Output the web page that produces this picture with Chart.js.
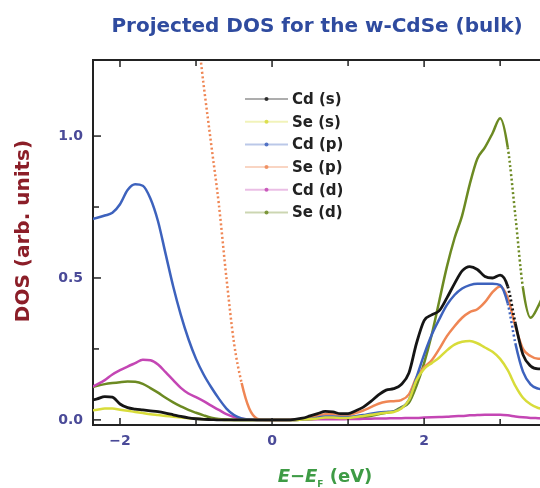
<!DOCTYPE html>
<html>
<head>
<meta charset="utf-8">
<title>Projected DOS w-CdSe</title>
<script src="https://cdn.jsdelivr.net/npm/chart.js@4.4.1/dist/chart.umd.min.js"></script>
<style>
  html, body { margin: 0; padding: 0; background: #fff; overflow: hidden; }
  #wrap { width: 550px; height: 488px; }
</style>
</head>
<body>
<div id="wrap"><canvas id="dosChart" width="550" height="488"></canvas></div>
<script>
// energy grid (eV, relative to E_F)
const energies = [
  -2.4, -2.3, -2.2, -2.1, -2.0, -1.9, -1.8, -1.7, -1.6, -1.5,
  -1.4, -1.3, -1.2, -1.1, -1.0, -0.9, -0.8, -0.7, -0.6, -0.5,
  -0.4, -0.3, -0.2, -0.1, 0.0, 0.1, 0.2, 0.3, 0.4, 0.5,
  0.6, 0.7, 0.8, 0.9, 1.0, 1.1, 1.2, 1.3, 1.4, 1.5,
  1.6, 1.7, 1.8, 1.9, 2.0, 2.1, 2.2, 2.3, 2.4, 2.5,
  2.6, 2.7, 2.8, 2.9, 3.0, 3.1, 3.2, 3.3, 3.4, 3.5, 3.6
];

const cdS = [
  0.068, 0.074, 0.082, 0.080, 0.056, 0.043, 0.038, 0.035, 0.032, 0.029,
  0.024, 0.018, 0.012, 0.007, 0.004, 0.002, 0.001, 0, 0, 0,
  0, 0, 0, 0, 0, 0, 0, 0.002, 0.006, 0.014,
  0.022, 0.030, 0.028, 0.022, 0.022, 0.032, 0.045, 0.065, 0.088, 0.105,
  0.110, 0.125, 0.165, 0.270, 0.350, 0.370, 0.385, 0.430, 0.480, 0.525,
  0.540, 0.530, 0.505, 0.500, 0.510, 0.470, 0.340, 0.230, 0.190, 0.180, 0.180
];
const seS = [
  0.033, 0.036, 0.040, 0.040, 0.036, 0.032, 0.028, 0.024, 0.020, 0.017,
  0.014, 0.011, 0.008, 0.006, 0.004, 0.003, 0.002, 0.001, 0, 0,
  0, 0, 0, 0, 0, 0, 0, 0, 0.001, 0.002,
  0.005, 0.008, 0.008, 0.007, 0.007, 0.010, 0.014, 0.018, 0.022, 0.025,
  0.028, 0.040, 0.070, 0.140, 0.180, 0.200, 0.220, 0.245, 0.265, 0.275,
  0.278, 0.270, 0.255, 0.240, 0.215, 0.175, 0.120, 0.078, 0.055, 0.042, 0.038
];
const cdP = [
  0.705, 0.712, 0.720, 0.730, 0.760, 0.810, 0.830, 0.825, 0.780, 0.700,
  0.585, 0.470, 0.370, 0.285, 0.215, 0.160, 0.115, 0.075, 0.040, 0.017,
  0.005, 0.001, 0, 0, 0, 0, 0, 0, 0.001, 0.003,
  0.008, 0.012, 0.012, 0.010, 0.010, 0.013, 0.017, 0.022, 0.026, 0.028,
  0.030, 0.042, 0.070, 0.150, 0.230, 0.300, 0.355, 0.405, 0.440, 0.463,
  0.475, 0.480, 0.480, 0.480, 0.475, 0.410, 0.270, 0.170, 0.125, 0.110, 0.105
];
const seP = [
  4.0, 3.7, 3.4, 3.1, 2.85, 2.6, 2.4, 2.2, 2.05, 1.9,
  1.8, 1.7, 1.6, 1.5, 1.4, 1.18, 0.97, 0.76, 0.50, 0.27,
  0.13, 0.04, 0.005, 0, 0, 0, 0, 0, 0.003, 0.008,
  0.014, 0.020, 0.020, 0.017, 0.017, 0.024, 0.033, 0.045, 0.057, 0.064,
  0.066, 0.070, 0.090, 0.150, 0.185, 0.210, 0.250, 0.295, 0.330, 0.360,
  0.380, 0.390, 0.415, 0.450, 0.470, 0.430, 0.330, 0.250, 0.225, 0.215, 0.215
];
const cdD = [
  0.112, 0.125, 0.140, 0.160, 0.175, 0.188, 0.200, 0.212, 0.210, 0.195,
  0.168, 0.140, 0.113, 0.093, 0.080, 0.066, 0.050, 0.035, 0.020, 0.010,
  0.004, 0.001, 0, 0, 0, 0, 0, 0.001, 0.001, 0.002,
  0.002, 0.002, 0.002, 0.002, 0.003, 0.003, 0.004, 0.004, 0.005, 0.005,
  0.006, 0.006, 0.007, 0.007, 0.008, 0.009, 0.010, 0.011, 0.013, 0.014,
  0.016, 0.017, 0.018, 0.018, 0.018, 0.016, 0.012, 0.009, 0.007, 0.006, 0.005
];
const seD = [
  0.112, 0.120, 0.126, 0.130, 0.133, 0.135, 0.134, 0.127, 0.112, 0.096,
  0.078, 0.062, 0.048, 0.035, 0.025, 0.016, 0.008, 0.003, 0.001, 0,
  0, 0, 0, 0, 0, 0, 0, 0, 0.001, 0.002,
  0.004, 0.005, 0.005, 0.005, 0.005, 0.007, 0.010, 0.014, 0.020, 0.025,
  0.030, 0.045, 0.060, 0.120, 0.200, 0.300, 0.420, 0.540, 0.640, 0.720,
  0.830, 0.920, 0.960, 1.010, 1.063, 0.960, 0.720, 0.465, 0.360, 0.400, 0.460
];

const seriesLabels = ['Cd (s)', 'Se (s)', 'Cd (p)', 'Se (p)', 'Cd (d)', 'Se (d)'];
const seriesValues = [cdS, seS, cdP, seP, cdD, seD];
const seriesColors = ['#151515', '#d8dc3a', '#3d62bd', '#ef8654', '#c446b4', '#6c8a22'];

const xMajorTicks = [-2, 0, 2];
const xMinorTicks = [-1, 1, 3];
const yMajorTicks = [0, 0.5, 1.0];
const yMinorTicks = [0.25, 0.75];

Chart.defaults.font.family = '"DejaVu Sans", sans-serif';

const tickColor = '#4a4a98';
const frameColor = '#222';

// steep parts of the curves look dotted in the original plot
const steep = ctx => Math.abs(ctx.p1.y - ctx.p0.y) > 4.8 * Math.abs(ctx.p1.x - ctx.p0.x);

const datasets = seriesLabels.map((label, i) => ({
  label: label,
  data: energies.map((e, j) => ({ x: e, y: seriesValues[i][j] })),
  borderColor: seriesColors[i],
  borderWidth: i === 0 ? 2.8 : 2.5,
  pointRadius: 0,
  fill: false,
  cubicInterpolationMode: 'monotone',
  segment: {
    borderDash: ctx => steep(ctx) ? [2, 2.5] : undefined
  }
}));

// frame, inward ticks, legend and titles
const decorations = {
  id: 'decorations',
  afterDraw(chart) {
    const { ctx, chartArea: a, scales } = chart;
    const xs = scales.x, ys = scales.y;
    ctx.save();

    ctx.strokeStyle = frameColor;
    ctx.lineWidth = 2;
    ctx.beginPath();
    ctx.moveTo(a.left - 1, a.top);
    ctx.lineTo(a.right + 1, a.top);
    ctx.stroke();

    ctx.lineWidth = 1.5;
    const tickX = (v, len) => {
      const px = xs.getPixelForValue(v);
      ctx.beginPath();
      ctx.moveTo(px, a.bottom);
      ctx.lineTo(px, a.bottom - len);
      ctx.moveTo(px, a.top);
      ctx.lineTo(px, a.top + len);
      ctx.stroke();
    };
    const tickY = (v, len) => {
      const py = ys.getPixelForValue(v);
      ctx.beginPath();
      ctx.moveTo(a.left, py);
      ctx.lineTo(a.left + len, py);
      ctx.stroke();
    };
    xMajorTicks.forEach(v => tickX(v, 7));
    xMinorTicks.forEach(v => tickX(v, 6));
    yMajorTicks.forEach(v => tickY(v, 8));
    yMinorTicks.forEach(v => tickY(v, 6));

    // legend
    ctx.font = 'bold 15px "DejaVu Sans"';
    ctx.textBaseline = 'middle';
    ctx.textAlign = 'left';
    chart.data.datasets.forEach((ds, i) => {
      const y = 99 + i * 22.7;
      ctx.globalAlpha = 0.35;
      ctx.strokeStyle = ds.borderColor;
      ctx.lineWidth = 2;
      ctx.beginPath();
      ctx.moveTo(245, y);
      ctx.lineTo(288, y);
      ctx.stroke();
      ctx.globalAlpha = 0.85;
      ctx.fillStyle = ds.borderColor;
      ctx.beginPath();
      ctx.arc(266.5, y, 2, 0, Math.PI * 2);
      ctx.fill();
      ctx.globalAlpha = 1;
      ctx.fillStyle = '#222';
      ctx.fillText(ds.label, 292, y + 1);
    });

    // chart title
    ctx.font = 'bold 20px "DejaVu Sans"';
    ctx.fillStyle = '#2f4b9f';
    ctx.textAlign = 'center';
    ctx.fillText('Projected DOS for the w-CdSe (bulk)', 317, 27);

    // y-axis title
    ctx.save();
    ctx.translate(24, 231);
    ctx.rotate(-Math.PI / 2);
    ctx.font = 'bold 20px "DejaVu Sans"';
    ctx.fillStyle = '#8b1e28';
    ctx.fillText('DOS (arb. units)', 0, 0);
    ctx.restore();

    // x-axis title with subscript
    const green = '#3e9b45';
    const parts = [
      { t: 'E', f: 'italic bold 18px "DejaVu Sans"', dy: 0 },
      { t: '\u2212', f: 'bold 18px "DejaVu Sans"', dy: 0 },
      { t: 'E', f: 'italic bold 18px "DejaVu Sans"', dy: 0 },
      { t: 'F', f: 'bold 9px "DejaVu Sans"', dy: 5 },
      { t: ' (eV)', f: 'bold 18px "DejaVu Sans"', dy: 0 }
    ];
    let total = 0;
    parts.forEach(p => { ctx.font = p.f; p.w = ctx.measureText(p.t).width; total += p.w; });
    let x = 325 - total / 2;
    ctx.fillStyle = green;
    ctx.textAlign = 'left';
    ctx.textBaseline = 'alphabetic';
    parts.forEach(p => {
      ctx.font = p.f;
      ctx.fillText(p.t, x, 482 + p.dy);
      x += p.w;
    });

    ctx.restore();
  }
};

new Chart(document.getElementById('dosChart'), {
  type: 'line',
  data: { datasets: datasets },
  options: {
    responsive: false,
    devicePixelRatio: 1,
    animation: false,
    layout: { padding: { top: 60, right: 5, left: 0, bottom: 0 } },
    plugins: {
      legend: { display: false },
      tooltip: { enabled: false }
    },
    scales: {
      x: {
        type: 'linear',
        min: -2.355,
        max: 3.59,
        grid: { display: false, drawTicks: false },
        border: { display: true, color: frameColor, width: 2 },
        afterBuildTicks: s => { s.ticks = xMajorTicks.map(v => ({ value: v })); },
        afterFit: s => { s.height = 63; },
        ticks: {
          padding: 8,
          color: tickColor,
          font: { size: 14, weight: 'bold' },
          callback: v => v < 0 ? '\u2212' + Math.abs(v) : String(v)
        }
      },
      y: {
        min: -0.018,
        max: 1.268,
        grid: { display: false, drawTicks: false },
        border: { display: true, color: frameColor, width: 2 },
        afterBuildTicks: s => { s.ticks = yMajorTicks.map(v => ({ value: v })); },
        afterFit: s => { s.width = 93; },
        ticks: {
          padding: 10,
          color: tickColor,
          font: { size: 14, weight: 'bold' },
          callback: v => Number(v).toFixed(1)
        }
      }
    }
  },
  plugins: [decorations]
});
</script>
</body>
</html>
